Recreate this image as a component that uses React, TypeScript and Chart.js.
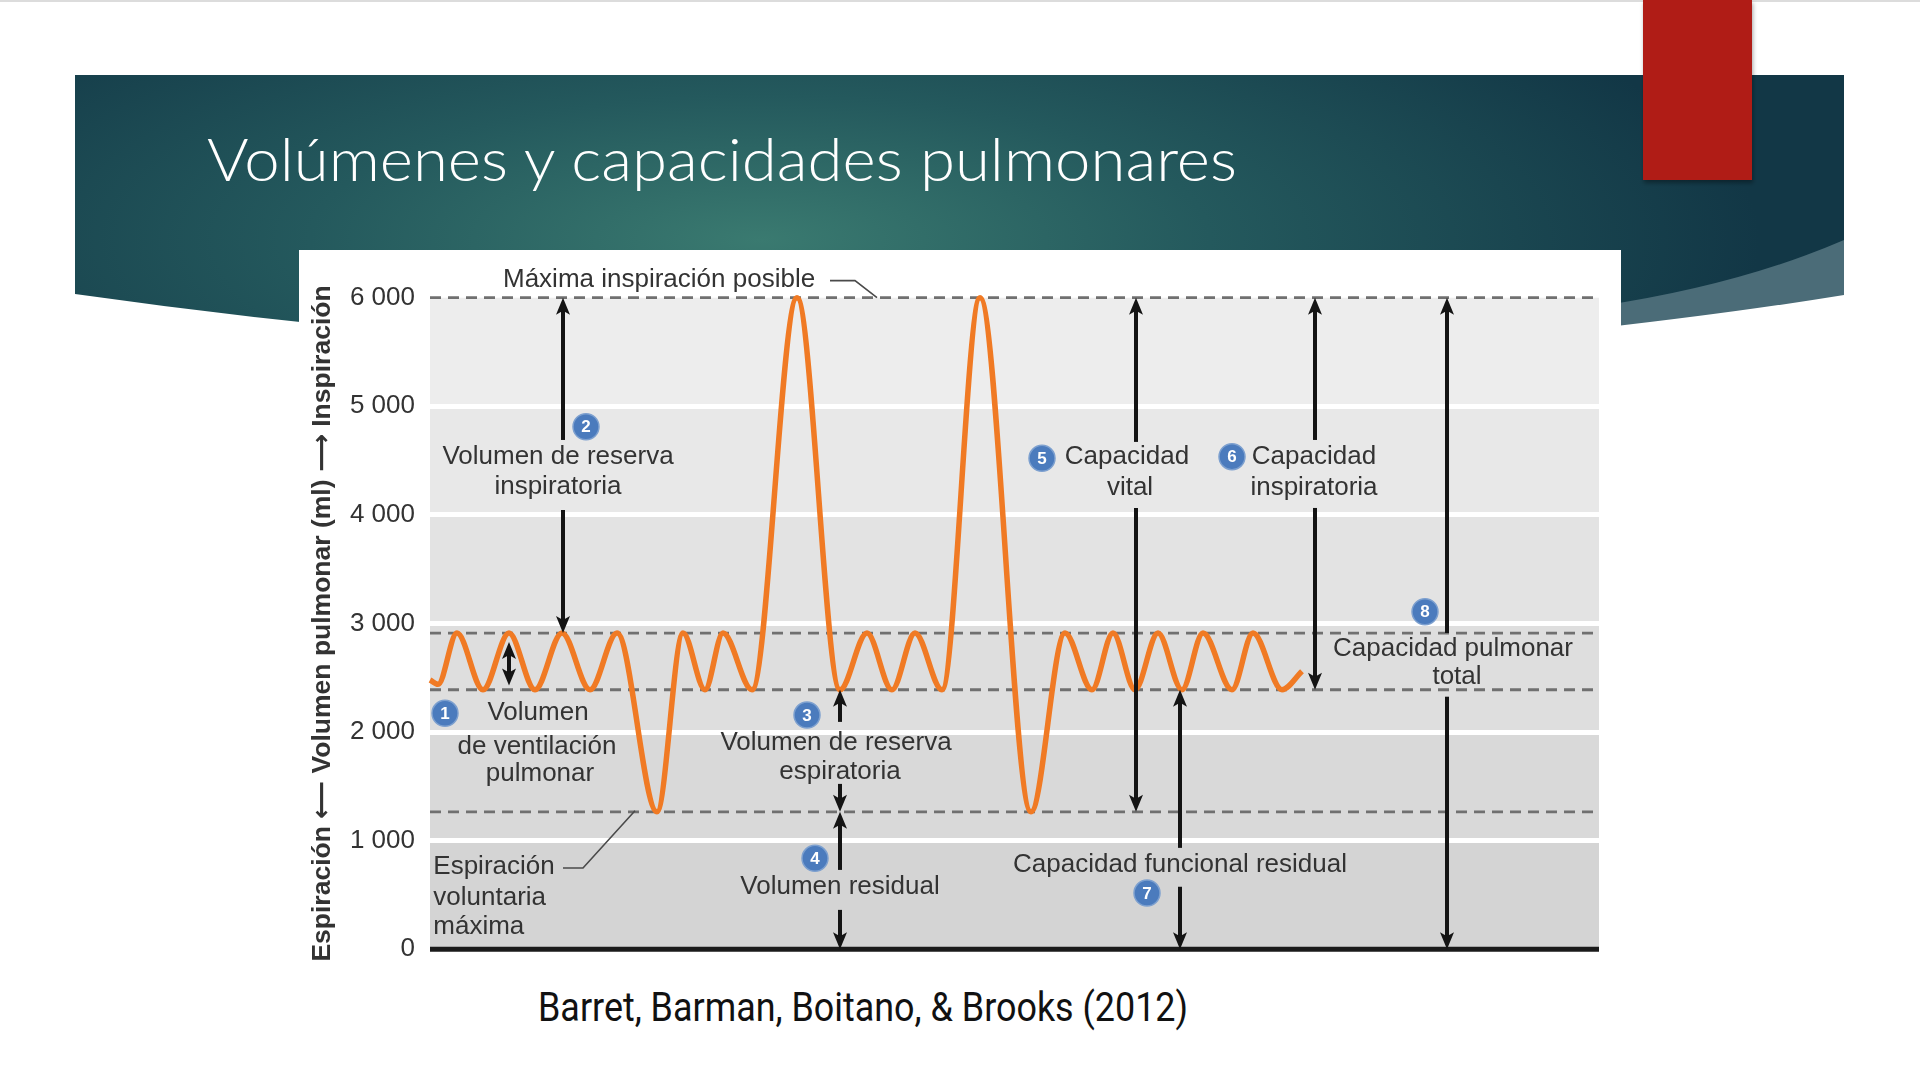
import { useEffect, useRef } from "react";
import { Chart, registerables } from "chart.js";

Chart.register(...registerables);

// Breathing trace: time (arbitrary units) and lung volume (ml)
const TIME = [
  0, 0.8, 2.7, 5.3, 7.9, 10.5, 13.2, 16.0, 18.7, 22.7, 25.3, 27.5, 29.3, 32.2,
  36.7, 41.0, 43.7, 46.2, 48.5, 51.2, 55.0, 60.1, 63.5, 66.2, 68.3, 70.5, 72.8,
  75.2, 77.3, 80.2, 82.3, 85.2, 87.2,
];
const VOLUME_ML = [
  2480, 2440, 2912, 2390, 2912, 2390, 2912, 2390, 2912, 1266, 2912, 2390, 2912,
  2390, 6000, 2390, 2912, 2390, 2912, 2390, 6000, 1266, 2912, 2390, 2912, 2390,
  2912, 2390, 2912, 2390, 2912, 2390, 2560,
];

// dashed reference levels: max inspiration, end tidal inspiration, end tidal expiration, max expiration
const REFERENCE_LEVELS_ML = [6000, 2912, 2390, 1266];
const Y_TICKS = [0, 1000, 2000, 3000, 4000, 5000, 6000];
const TIME_MAX = 116.9;

const TEXT_FONT = '26px "Liberation Sans", Arial, sans-serif';
const TEXT_COLOR = "#333333";

type Arrow = { t: number; from: number; to: number; headFrom?: boolean; headTo?: boolean };
type Label = { t: number; v: number; text: string; align: CanvasTextAlign };
type Badge = { t: number; v: number; n: string };

const ARROWS: Arrow[] = [
  { t: 13.3, from: 4690, to: 6000, headTo: true },
  { t: 13.3, from: 4045, to: 2912, headTo: true },
  { t: 7.9, from: 2430, to: 2830, headFrom: true, headTo: true },
  { t: 41.0, from: 2094, to: 2390, headTo: true },
  { t: 41.0, from: 1523, to: 1266, headTo: true },
  { t: 41.0, from: 731, to: 1266, headTo: true },
  { t: 41.0, from: 363, to: 0, headTo: true },
  { t: 70.6, from: 4672, to: 6000, headTo: true },
  { t: 70.6, from: 4064, to: 1266, headTo: true },
  { t: 88.5, from: 4690, to: 6000, headTo: true },
  { t: 88.5, from: 4064, to: 2390, headTo: true },
  { t: 75.0, from: 934, to: 2390, headTo: true },
  { t: 75.0, from: 576, to: 0, headTo: true },
  { t: 101.7, from: 2912, to: 6000, headTo: true },
  { t: 101.7, from: 2326, to: 0, headTo: true },
];

const LABELS: Label[] = [
  { t: 7.3, v: 6160, text: "Máxima inspiración posible", align: "left" },
  { t: 12.8, v: 4536, text: "Volumen de reserva", align: "center" },
  { t: 12.8, v: 4259, text: "inspiratoria", align: "center" },
  { t: 10.8, v: 2173, text: "Volumen", align: "center" },
  { t: 10.7, v: 1865, text: "de ventilación", align: "center" },
  { t: 11.0, v: 1620, text: "pulmonar", align: "center" },
  { t: 40.6, v: 1900, text: "Volumen de reserva", align: "center" },
  { t: 41.0, v: 1637, text: "espiratoria", align: "center" },
  { t: 41.0, v: 576, text: "Volumen residual", align: "center" },
  { t: 69.7, v: 4536, text: "Capacidad", align: "center" },
  { t: 70.0, v: 4245, text: "vital", align: "center" },
  { t: 88.4, v: 4536, text: "Capacidad", align: "center" },
  { t: 88.4, v: 4245, text: "inspiratoria", align: "center" },
  { t: 102.3, v: 2771, text: "Capacidad pulmonar", align: "center" },
  { t: 102.7, v: 2510, text: "total", align: "center" },
  { t: 75.0, v: 781, text: "Capacidad funcional residual", align: "center" },
  { t: 0.33, v: 755, text: "Espiración", align: "left" },
  { t: 0.33, v: 470, text: "voluntaria", align: "left" },
  { t: 0.33, v: 208, text: "máxima", align: "left" },
];

const BADGES: Badge[] = [
  { t: 1.5, v: 2173, n: "1" },
  { t: 15.6, v: 4812, n: "2" },
  { t: 37.7, v: 2157, n: "3" },
  { t: 38.5, v: 838, n: "4" },
  { t: 61.2, v: 4521, n: "5" },
  { t: 80.2, v: 4536, n: "6" },
  { t: 71.7, v: 518, n: "7" },
  { t: 99.5, v: 3108, n: "8" },
];

const LEADERS: [number, number][][] = [
  [[40.0, 6157], [42.5, 6157], [44.7, 6000]],
  [[13.3, 749], [15.3, 749], [20.5, 1276]],
];

const BAND_COLORS = ["#d4d4d4", "#d9d9d9", "#dedede", "#e3e3e3", "#e8e8e8", "#ededed"];

const spiroPlugin = {
  id: "spiroAnnotations",
  beforeDraw(chart: any) {
    const { ctx, chartArea, scales } = chart;
    const y = scales.y;
    ctx.save();
    for (let i = 0; i < Y_TICKS.length - 1; i++) {
      const top = y.getPixelForValue(Y_TICKS[i + 1]);
      const bottom = y.getPixelForValue(Y_TICKS[i]);
      ctx.fillStyle = BAND_COLORS[i];
      ctx.fillRect(chartArea.left, top, chartArea.right - chartArea.left, bottom - top);
    }
    ctx.restore();
  },
  afterDatasetsDraw(chart: any) {
    const { ctx, scales } = chart;
    const px = (t: number) => scales.x.getPixelForValue(t);
    const py = (v: number) => scales.y.getPixelForValue(v);
    ctx.save();

    // leader lines
    ctx.strokeStyle = "#4a4a4a";
    ctx.lineWidth = 1.6;
    LEADERS.forEach((pts) => {
      ctx.beginPath();
      pts.forEach(([t, v], i) => (i ? ctx.lineTo(px(t), py(v)) : ctx.moveTo(px(t), py(v))));
      ctx.stroke();
    });

    // arrows
    const head = (x: number, tipY: number, dir: number) => {
      ctx.beginPath();
      ctx.moveTo(x, tipY);
      ctx.lineTo(x - 7, tipY + dir * 17);
      ctx.lineTo(x, tipY + dir * 13);
      ctx.lineTo(x + 7, tipY + dir * 17);
      ctx.closePath();
      ctx.fill();
    };
    ctx.strokeStyle = "#141414";
    ctx.fillStyle = "#141414";
    ctx.lineWidth = 4;
    ARROWS.forEach((a) => {
      const x = px(a.t);
      const y1 = py(a.from);
      const y2 = py(a.to);
      const dir = y2 > y1 ? 1 : -1;
      ctx.beginPath();
      ctx.moveTo(x, a.headFrom ? y1 + dir * 12 : y1);
      ctx.lineTo(x, a.headTo ? y2 - dir * 12 : y2);
      ctx.stroke();
      if (a.headTo) head(x, y2, -dir);
      if (a.headFrom) head(x, y1, dir);
    });

    // text
    ctx.font = TEXT_FONT;
    ctx.fillStyle = TEXT_COLOR;
    ctx.textBaseline = "middle";
    LABELS.forEach((l) => {
      ctx.textAlign = l.align;
      ctx.fillText(l.text, px(l.t), py(l.v));
    });

    // numbered badges
    BADGES.forEach((b) => {
      const x = px(b.t);
      const y = py(b.v);
      ctx.beginPath();
      ctx.arc(x, y, 13, 0, Math.PI * 2);
      ctx.fillStyle = "#4b7bbd";
      ctx.fill();
      ctx.lineWidth = 1.5;
      ctx.strokeStyle = "#7da0cf";
      ctx.stroke();
      ctx.fillStyle = "#ffffff";
      ctx.font = 'bold 17px "Liberation Sans", Arial, sans-serif';
      ctx.textAlign = "center";
      ctx.fillText(b.n, x, y + 1);
    });
    ctx.restore();
  },
};

function SpirogramChart() {
  const chartRef = useRef<HTMLCanvasElement>(null);
  const chartInstance = useRef<Chart | null>(null);

  useEffect(() => {
    if (!chartRef.current) return;
    if (chartInstance.current) chartInstance.current.destroy();
    const ctx = chartRef.current.getContext("2d");
    if (!ctx) return;

    const trace = TIME.map((t, i) => ({ x: t, y: VOLUME_ML[i] }));
    const levelSets = REFERENCE_LEVELS_ML.map((v) => ({
      data: [
        { x: 0, y: v },
        { x: TIME_MAX, y: v },
      ],
      borderColor: "#707070",
      borderWidth: 2.8,
      borderDash: [11, 7],
      pointRadius: 0,
      clip: false as const,
    }));

    chartInstance.current = new Chart(ctx, {
      type: "line",
      data: {
        datasets: [
          {
            data: trace,
            borderColor: "#f07a24",
            borderWidth: 5.5,
            pointRadius: 0,
            cubicInterpolationMode: "monotone",
            clip: false as const,
          },
          ...levelSets,
          {
            data: [
              { x: 0, y: 0 },
              { x: TIME_MAX, y: 0 },
            ],
            borderColor: "#1a1a1a",
            borderWidth: 5,
            pointRadius: 0,
            clip: false as const,
          },
        ],
      },
      options: {
        animation: false,
        responsive: true,
        maintainAspectRatio: false,
        layout: { padding: { top: 47.7, right: 22, bottom: 30.7, left: 0 } },
        plugins: { legend: { display: false }, tooltip: { enabled: false } },
        scales: {
          x: { type: "linear", min: 0, max: TIME_MAX, display: false },
          y: {
            min: 0,
            max: 6000,
            afterFit: (scale: any) => {
              scale.width = 131;
            },
            afterBuildTicks: (scale: any) => {
              scale.ticks = Y_TICKS.map((value) => ({ value }));
            },
            border: { display: false },
            grid: {
              drawTicks: false,
              lineWidth: 5,
              color: (c: any) =>
                c.tick && (c.tick.value === 0 || c.tick.value === 6000) ? "rgba(0,0,0,0)" : "#ffffff",
            },
            ticks: {
              padding: 15,
              color: "#333333",
              font: { family: '"Liberation Sans", Arial, sans-serif', size: 26 },
              callback: (v: any) => String(v).replace(/\B(?=(\d{3})+(?!\d))/g, " "),
            },
            title: {
              display: true,
              text: "Espiración ⟵ Volumen pulmonar (ml) ⟶ Inspiración",
              color: "#333333",
              padding: { top: 8, bottom: 0 },
              font: { family: '"Liberation Sans", "DejaVu Sans", Arial, sans-serif', size: 26.5, weight: "bold" },
            },
          },
        },
      },
      plugins: [spiroPlugin],
    });

    return () => {
      if (chartInstance.current) {
        chartInstance.current.destroy();
        chartInstance.current = null;
      }
    };
  }, []);

  return <canvas ref={chartRef} />;
}

export default function App() {
  return (
    <div
      style={{
        position: "absolute",
        left: 0,
        top: 0,
        width: 1920,
        height: 1080,
        overflow: "hidden",
        background: "#ffffff",
      }}
    >
      <svg width={1920} height={1080} style={{ position: "absolute", left: 0, top: 0 }}>
        <defs>
          <radialGradient
            id="bannerGrad"
            cx={760}
            cy={240}
            r={1000}
            gradientUnits="userSpaceOnUse"
            gradientTransform="translate(760 240) scale(1 0.32) translate(-760 -240)"
          >
            <stop offset="0" stopColor="#3a7a70" />
            <stop offset="0.45" stopColor="#24595d" />
            <stop offset="1" stopColor="#123746" />
          </radialGradient>
          <filter id="redShadow" x="-10%" y="-10%" width="130%" height="130%">
            <feDropShadow dx="1" dy="3" stdDeviation="2" floodColor="#000" floodOpacity="0.35" />
          </filter>
        </defs>
        <rect x={0} y={0} width={1920} height={2} fill="#dcdcdc" />
        <path d="M75,75 H1844 V294 Q960,420 75,294 Z" fill="url(#bannerGrad)" />
        <path d="M1600,306 Q1740,285 1844,240 L1844,295 Q1740,312 1600,328 Z" fill="#4b6c78" />
        <rect x={1643} y={0} width={109} height={180} fill="#b01a16" filter="url(#redShadow)" />
        <text
          x={207}
          y={181}
          fill="#ffffff"
          fontFamily="Lato, 'Open Sans', sans-serif"
          fontWeight={300}
          fontSize={60}
          textLength={1030}
          lengthAdjust="spacingAndGlyphs"
        >
          Volúmenes y capacidades pulmonares
        </text>
        <text
          x={538}
          y={1021}
          fill="#111111"
          fontFamily="Roboto, 'Liberation Sans', sans-serif"
          fontSize={40}
          textLength={650}
          lengthAdjust="spacingAndGlyphs"
        >
          Barret, Barman, Boitano, &amp; Brooks (2012)
        </text>
      </svg>
      <div
        style={{
          position: "absolute",
          left: 299,
          top: 250,
          width: 1322,
          height: 730,
          background: "#ffffff",
        }}
      >
        <SpirogramChart />
      </div>
    </div>
  );
}
